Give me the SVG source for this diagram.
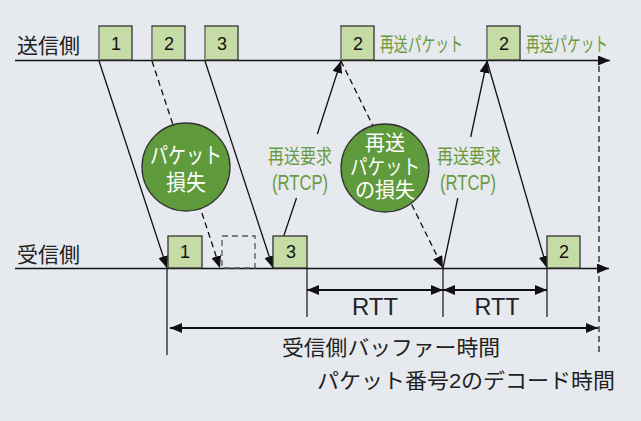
<svg xmlns="http://www.w3.org/2000/svg" width="641" height="421" viewBox="0 0 641 421">
<style>
.bg{fill:#e6e9ee}
.ax{stroke:#111;stroke-width:1.6;fill:none}
.pk{stroke:#111;stroke-width:1.3;fill:none}
.dsh{stroke-dasharray:6 4}
.box{fill:#c6dca6;stroke:#333;stroke-width:1.3}
.edge{stroke:#888;stroke-width:2}
.dbox{fill:none;stroke:#555;stroke-width:1.3;stroke-dasharray:6 4}
.num{font-family:"Liberation Sans","Noto Sans CJK JP",sans-serif;font-size:18px;fill:#111;text-anchor:middle}
.lbl{font-family:"Liberation Sans","Noto Sans CJK JP",sans-serif;font-size:21px;fill:#222}
.gr{font-family:"Liberation Sans","Noto Sans CJK JP",sans-serif;font-size:20px;fill:#6a9a40}
.circ{fill:#5f9a3c;stroke:#333;stroke-width:1.3}
.wt{font-family:"Liberation Sans","Noto Sans CJK JP",sans-serif;font-size:22px;fill:#fff;text-anchor:middle}
.dim{stroke:#111;stroke-width:2;fill:none}
.vl{stroke:#111;stroke-width:1.2;fill:none}
</style>
<defs>
<marker id="ah" viewBox="0 0 12 10" refX="12" refY="5" markerWidth="12" markerHeight="10" markerUnits="userSpaceOnUse" orient="auto">
<path d="M0,0 L12,5 L0,10 Z" fill="#111"/>
</marker>
<marker id="ahs" viewBox="0 0 12 10" refX="12" refY="5" markerWidth="12" markerHeight="10" markerUnits="userSpaceOnUse" orient="auto-start-reverse">
<path d="M0,0 L12,5 L0,10 Z" fill="#111"/>
</marker>
</defs>
<rect class="bg" x="0" y="0" width="641" height="421"/>

<g id="axes">
<text class="lbl" x="17" y="53">送信側</text>
<text class="lbl" x="17" y="262">受信側</text>
<line class="ax" x1="15" y1="60.5" x2="610" y2="60.5" marker-end="url(#ah)"/>
<line class="ax" x1="15" y1="268.5" x2="609" y2="268.5" marker-end="url(#ah)"/>
</g>

<g id="connectors">
<line class="pk" x1="99" y1="61" x2="167" y2="268" marker-end="url(#ah)"/>
<line class="pk dsh" x1="152" y1="61" x2="220" y2="268" marker-end="url(#ah)"/>
<line class="pk" x1="205" y1="61" x2="273" y2="268" marker-end="url(#ah)"/>
<line class="pk" x1="273" y1="268" x2="296.5" y2="198"/>
<line class="pk" x1="317.4" y1="134" x2="341" y2="61" marker-end="url(#ah)"/>
<line class="pk dsh" x1="341" y1="61" x2="443" y2="268" marker-end="url(#ah)"/>
<line class="pk" x1="443" y1="268" x2="457.8" y2="198"/>
<line class="pk" x1="470.7" y1="137" x2="487" y2="61" marker-end="url(#ah)"/>
<line class="pk" x1="487" y1="61" x2="547" y2="268" marker-end="url(#ah)"/>
<line class="vl dsh" x1="599" y1="66" x2="599" y2="356"/>
</g>

<g id="send1"><rect class="box" x="99" y="26" width="33" height="34"/><line class="edge" x1="99" y1="27" x2="99" y2="60"/><text class="num" x="116" y="50">1</text></g>
<g id="send2"><rect class="box" x="152" y="26" width="33" height="34"/><line class="edge" x1="152" y1="27" x2="152" y2="60"/><text class="num" x="169" y="50">2</text></g>
<g id="send3"><rect class="box" x="205" y="26" width="33" height="34"/><line class="edge" x1="205" y1="27" x2="205" y2="60"/><text class="num" x="222" y="50">3</text></g>
<g id="resend1"><rect class="box" x="341" y="26" width="33" height="34"/><line class="edge" x1="341" y1="27" x2="341" y2="60"/><text class="num" x="358" y="50">2</text>
<text class="gr" x="380" y="52" textLength="83" lengthAdjust="spacingAndGlyphs">再送パケット</text></g>
<g id="resend2"><rect class="box" x="487" y="26" width="33" height="34"/><line class="edge" x1="487" y1="27" x2="487" y2="60"/><text class="num" x="504" y="50">2</text>
<text class="gr" x="526" y="52" textLength="82" lengthAdjust="spacingAndGlyphs">再送パケット</text></g>

<g id="recv1"><rect class="box" x="168" y="236" width="34" height="32"/><text class="num" x="185" y="258">1</text></g>
<g id="recvlost"><rect class="dbox" x="222" y="236" width="33" height="32"/></g>
<g id="recv3"><rect class="box" x="273" y="236" width="34" height="32"/><text class="num" x="291" y="258">3</text></g>
<g id="recv2"><rect class="box" x="547" y="236" width="33" height="32"/><text class="num" x="564" y="258">2</text></g>

<g id="loss1"><circle class="circ" cx="186" cy="167" r="44"/>
<text class="wt" x="186" y="163" textLength="72" lengthAdjust="spacingAndGlyphs">パケット</text><text class="wt" x="186" y="190" textLength="40" lengthAdjust="spacingAndGlyphs">損失</text></g>
<g id="loss2"><circle class="circ" cx="385" cy="168" r="44"/>
<text class="wt" x="385" y="150" style="font-size:21px" textLength="40" lengthAdjust="spacingAndGlyphs">再送</text><text class="wt" x="385" y="174" style="font-size:21px" textLength="70" lengthAdjust="spacingAndGlyphs">パケット</text><text class="wt" x="385" y="197" style="font-size:21px" textLength="60" lengthAdjust="spacingAndGlyphs">の損失</text></g>

<g id="req1"><text class="gr" x="268" y="164" textLength="64" lengthAdjust="spacingAndGlyphs">再送要求</text>
<text class="gr" x="272" y="190" style="font-size:22px" textLength="56" lengthAdjust="spacingAndGlyphs">(RTCP)</text></g>
<g id="req2"><text class="gr" x="437" y="164" textLength="64" lengthAdjust="spacingAndGlyphs">再送要求</text>
<text class="gr" x="440" y="190" style="font-size:22px" textLength="56" lengthAdjust="spacingAndGlyphs">(RTCP)</text></g>

<g id="dims">
<line class="vl" x1="167" y1="268" x2="167" y2="355"/>
<line class="vl" x1="307" y1="268" x2="307" y2="317"/>
<line class="vl" x1="443" y1="268" x2="443" y2="317"/>
<line class="vl" x1="547" y1="268" x2="547" y2="317"/>
<line class="dim" x1="307" y1="290" x2="443" y2="290" marker-start="url(#ahs)" marker-end="url(#ahs)"/>
<line class="dim" x1="443" y1="290" x2="547" y2="290" marker-start="url(#ahs)" marker-end="url(#ahs)"/>
<line class="dim" x1="170" y1="328" x2="598" y2="328" marker-start="url(#ahs)" marker-end="url(#ahs)"/>
<text class="lbl" x="375" y="315" text-anchor="middle" style="font-size:23px" textLength="46" lengthAdjust="spacingAndGlyphs">RTT</text>
<text class="lbl" x="497" y="315" text-anchor="middle" style="font-size:23px" textLength="45" lengthAdjust="spacingAndGlyphs">RTT</text>
<text class="lbl" x="282" y="355" textLength="218" lengthAdjust="spacingAndGlyphs">受信側バッファー時間</text>
<text class="lbl" x="317" y="388" textLength="298" lengthAdjust="spacingAndGlyphs">パケット番号2のデコード時間</text>
</g>
</svg>
